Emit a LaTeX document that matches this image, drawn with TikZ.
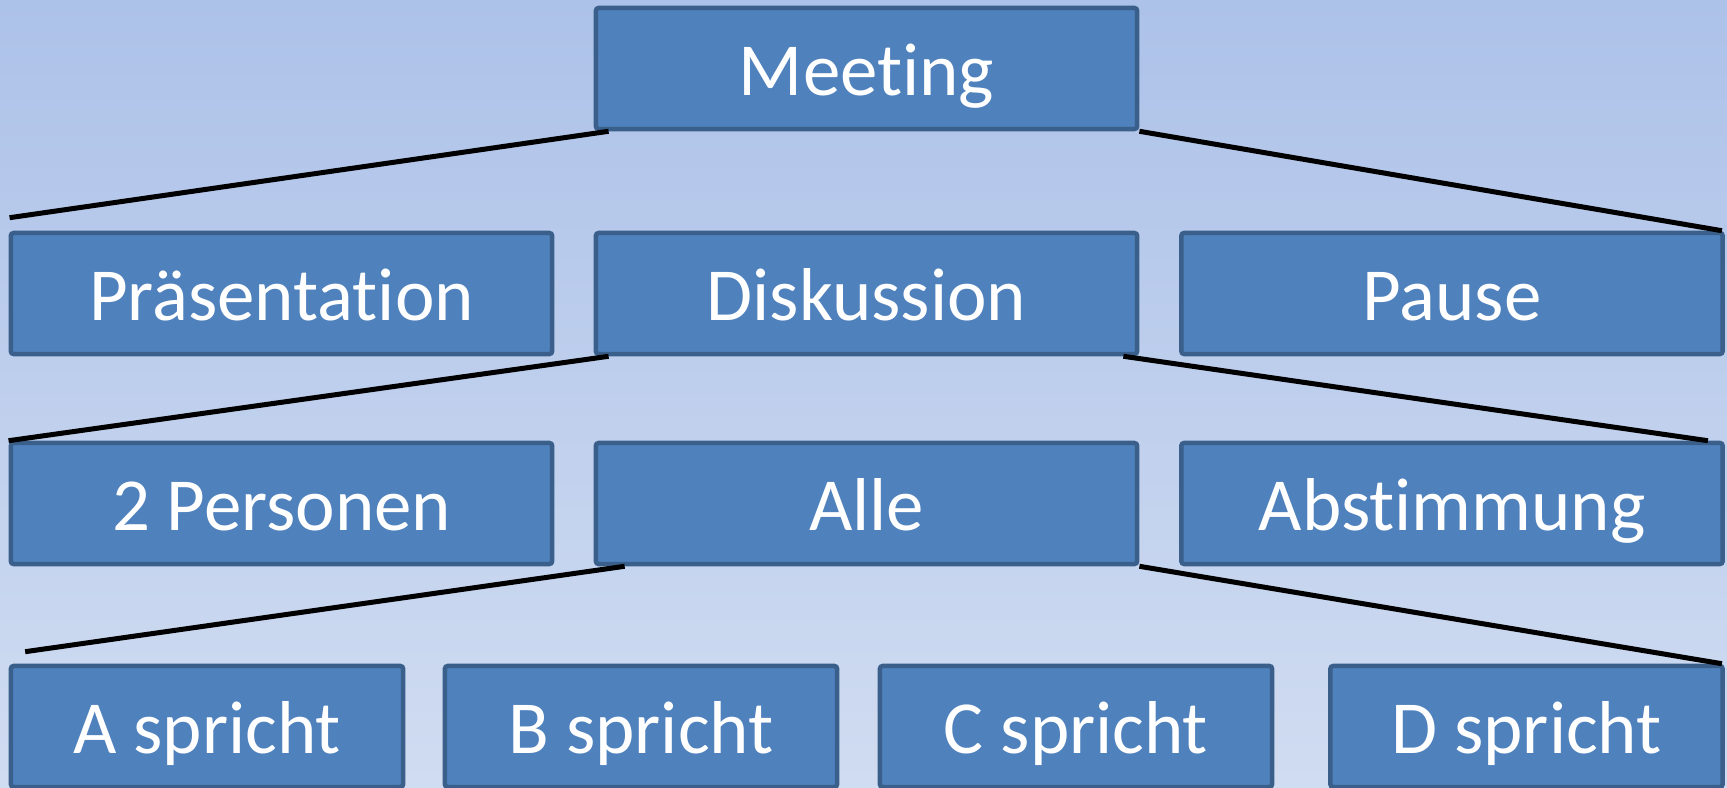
\documentclass[tikz,border=0pt]{standalone}
\usepackage{fontspec}
\setmainfont{Carlito}[Ligatures=NoCommon]
\usetikzlibrary{positioning}

\definecolor{bgtop}{HTML}{ADC2E9}
\definecolor{bgbot}{HTML}{D0DCF1}
\definecolor{boxfill}{HTML}{4F81BD}
\definecolor{boxline}{HTML}{3A5F8B}

\tikzset{
  item/.style={draw=boxline, fill=boxfill, line width=0.045cm, rounded corners=0.8pt,
    text=white, font=\fontsize{21.3}{25}\selectfont, inner sep=0pt,
    text height=15.4pt, text depth=0pt, minimum height=1.21cm},
  wide/.style={item, minimum width=5.41cm},
  small/.style={item, minimum width=3.92cm},
  link/.style={line width=0.05cm, black}
}

\begin{document}
\begin{tikzpicture}[x=0.01cm, y=-0.01cm]
  \shade[top color=bgtop, bottom color=bgbot] (0,0) rectangle (1727,788);
  \useasboundingbox (0,0) rectangle (1727,788);

  % top level
  \node[wide] (meeting) at (866.5,68.5) {Meeting};

  % second row
  \node[wide] (praes) at (281.5,293.5) {Präsentation};
  \node[wide] (disk)  at (866.5,293.5) {Diskussion};
  \node[wide] (pause) at (1452,293.5)  {Pause};

  % third row
  \node[wide] (pers) at (281.5,503.5) {2 Personen};
  \node[wide] (alle) at (866.5,503.5) {Alle};
  \node[wide] (abst) at (1452,503.5)  {Abstimmung};

  % fourth row
  \node[small] (spA) at (207,726.5)    {A spricht};
  \node[small] (spB) at (641,726.5)    {B spricht};
  \node[small] (spC) at (1076,726.5)   {C spricht};
  \node[small] (spD) at (1526.5,726.5) {D spricht};

  \draw[link] ([xshift=0.15cm]meeting.south west) -- ([shift={(0.01cm,0.13cm)}]praes.north west);
  \draw[link] (meeting.south east) -- ([xshift=-0.03cm]pause.north east);

  \draw[link] ([xshift=0.15cm]disk.south west) -- (pers.north west);
  \draw[link] ([xshift=-0.16cm]disk.south east) -- ([xshift=-0.17cm]abst.north east);

  \draw[link] ([xshift=0.31cm]alle.south west) -- ([shift={(0.165cm,0.12cm)}]spA.north west);
  \draw[link] (alle.south east) -- ([xshift=-0.03cm]spD.north east);
\end{tikzpicture}
\end{document}
